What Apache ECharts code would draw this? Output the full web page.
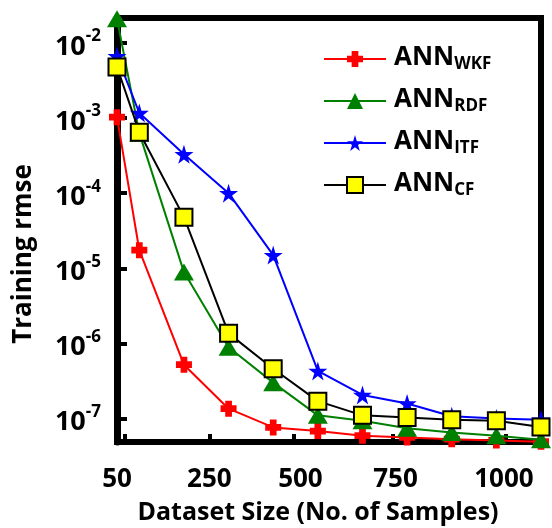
<!DOCTYPE html>
<html>
<head>
<meta charset="utf-8">
<script src="https://cdn.jsdelivr.net/npm/echarts@6/dist/echarts.min.js"></script>
<style>
  html, body { margin: 0; padding: 0; background: #fff; }
  #chart { width: 552px; height: 528px; }
</style>
</head>
<body>
<div id="chart"></div>
<script>
// Dataset sizes (number of samples)
const sampleSizes = [50, 100, 200, 300, 400, 500, 600, 700, 800, 900, 1000];

// Training RMSE per feature set
const rmseWKF = [1.03e-3, 1.74e-5, 5.2e-7, 1.35e-7, 7.6e-8, 6.8e-8, 5.9e-8, 5.6e-8, 5.3e-8, 5.1e-8, 4.9e-8];
const rmseRDF = [2.1e-2, 6.3e-4, 8.9e-6, 8.9e-7, 3.0e-7, 1.1e-7, 9.3e-8, 7.4e-8, 6.5e-8, 5.9e-8, 5.2e-8];
const rmseITF = [6.7e-3, 1.17e-3, 3.3e-4, 1.0e-4, 1.5e-5, 4.3e-7, 2.06e-7, 1.58e-7, 1.07e-7, 1.0e-7, 9.6e-8];
const rmseCF  = [4.8e-3, 6.5e-4, 4.8e-5, 1.36e-6, 4.6e-7, 1.7e-7, 1.1e-7, 1.03e-7, 9.6e-8, 9.3e-8, 7.7e-8];

// Series names (shown as ANN subscripts)
const seriesNames = ['WKF', 'RDF', 'ITF', 'CF'];

// x tick label texts
const xTickLabels = ['50', '250', '500', '750', '1000'];

// where the x tick labels and tick marks sit along the sample axis
const xLabelAnchors = [50, 257, 461, 674, 917];
const xTickAnchors = [68, 257, 445, 667, 922];

const FONT = '"Open Sans"';
const pair = (ys) => sampleSizes.map((x, i) => [x, ys[i]]);

const plusPath = 'path://M29,0H71V29H100V71H71V100H29V71H0V29H29Z';
const starPath = 'path://M50,0L61,35L98,35L68,57L79,91L50,70L21,91L32,57L2,35L39,35Z';

const chart = echarts.init(document.getElementById('chart'), null, { renderer: 'canvas' });

const lineSeries = (name, data, color, symbol, size, itemStyle, z) => ({
  name,
  type: 'line',
  data: pair(data),
  xAxisIndex: 0,
  symbol,
  symbolSize: size,
  showAllSymbol: true,
  clip: false,
  z,
  lineStyle: { color, width: 2 },
  itemStyle: Object.assign({ color }, itemStyle || {}),
  emphasis: { disabled: true }
});

chart.setOption({
  animation: false,
  backgroundColor: '#ffffff',
  grid: {
    left: 117, right: 11, top: 18, bottom: 86,
    outerBoundsMode: 'none',
    containLabel: false,
    show: true, borderColor: '#000', borderWidth: 6, backgroundColor: 'transparent'
  },
  legend: {
    orient: 'vertical',
    left: 318, top: 34,
    itemWidth: 62, itemHeight: 20, itemGap: 8,
    data: seriesNames,
    formatter: (name) => '{a|ANN}{s|' + name + '}',
    textStyle: {
      fontFamily: FONT, fontWeight: 'bold', color: '#000',
      rich: {
        a: { fontFamily: FONT, fontWeight: 'bold', fontSize: 26, lineHeight: 28, verticalAlign: 'top', color: '#000', padding: [0, 0, 0, 3] },
        s: { fontFamily: FONT, fontWeight: 'bold', fontSize: 17, lineHeight: 18, verticalAlign: 'bottom', padding: [17, 0, 0, 0], color: '#000' }
      }
    }
  },
  xAxis: [
    {
      type: 'value',
      min: 50, max: 1000,
      position: 'bottom',
      name: 'Dataset Size (No. of Samples)',
      nameLocation: 'middle',
      nameGap: 58,
      nameTextStyle: { fontFamily: FONT, fontWeight: 'bold', fontSize: 25, color: '#000', padding: [0, 22, 0, 0] },
      axisLine: { show: true, onZero: false, lineStyle: { color: '#000', width: 6 } },
      axisTick: { show: false },
      axisLabel: { show: false },
      splitLine: { show: false }
    },
    {
      type: 'value',
      min: 50, max: 1000,
      position: 'bottom',
      axisLine: { show: false, onZero: false },
      axisTick: {
        show: true, inside: true, length: 8,
        customValues: xTickAnchors,
        lineStyle: { color: '#000', width: 4 }
      },
      axisLabel: {
        show: true, margin: 25,
        customValues: xLabelAnchors,
        formatter: (v) => xTickLabels[xLabelAnchors.indexOf(v)] || '',
        fontFamily: FONT, fontWeight: 'bold', fontSize: 26, color: '#000'
      },
      splitLine: { show: false }
    }
  ],
  yAxis: {
    type: 'log',
    logBase: 10,
    min: 4.86e-8,
    max: 0.02154,
    name: 'Training rmse',
    nameLocation: 'middle',
    nameGap: 80,
    nameRotate: 90,
    nameTextStyle: { fontFamily: FONT, fontWeight: 'bold', fontSize: 26, color: '#000', padding: [0, 48, 0, 0] },
    axisLine: { show: true, lineStyle: { color: '#000', width: 7 } },
    axisTick: { show: true, inside: true, length: 10, lineStyle: { color: '#000', width: 4 } },
    minorTick: { show: false },
    splitLine: { show: false },
    axisLabel: {
      margin: 16,
      showMinLabel: false,
      showMaxLabel: false,
      formatter: (v) => '{m|10}{e|' + Math.round(Math.log10(v)) + '}',
      rich: {
        m: { fontFamily: FONT, fontWeight: 'bold', fontSize: 27, lineHeight: 30, color: '#000', padding: [8, 0, 0, 0] },
        e: { fontFamily: FONT, fontWeight: 'bold', fontSize: 17, lineHeight: 18, verticalAlign: 'top', color: '#000' }
      }
    }
  },
  series: [
    lineSeries('WKF', rmseWKF, '#ff0000', plusPath, 16, null, 2),
    lineSeries('RDF', rmseRDF, '#008000', 'triangle', [20, 17], null, 3),
    lineSeries('ITF', rmseITF, '#0000ff', starPath, 19, null, 4),
    lineSeries('CF', rmseCF, '#000000', 'rect', 17, { color: '#ffff00', borderColor: '#000', borderWidth: 2 }, 5)
  ]
});
</script>
</body>
</html>
